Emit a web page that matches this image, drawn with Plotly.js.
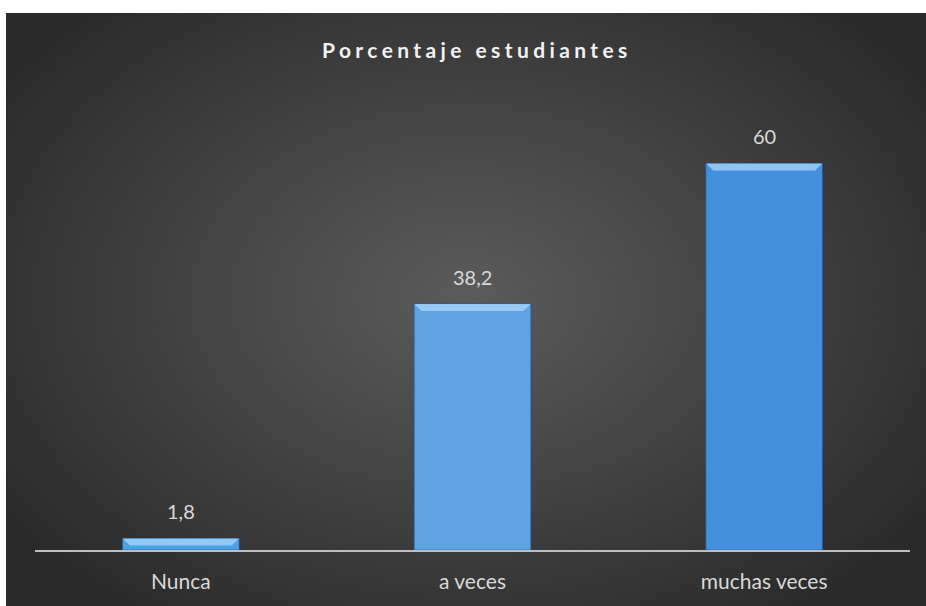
<!DOCTYPE html>
<html>
<head>
<meta charset="utf-8">
<script src="https://cdn.plot.ly/plotly-3.0.1.min.js"></script>
<style>
  html, body { margin: 0; padding: 0; background: #ffffff; width: 926px; height: 606px; overflow: hidden; }
  #bg { position: absolute; left: 6px; top: 13px; width: 920px; height: 593px;
        background: radial-gradient(ellipse 60% 65% at 50% 48%, #5b5b5b 0%, #464646 45%, #2b2b2b 100%); }
  #chart { position: absolute; left: 0; top: 0; width: 926px; height: 606px; }
  .gtitle { letter-spacing: 4.4px; }
</style>
</head>
<body>
<div id="bg"></div>
<div id="chart"></div>
<script>
const categories = ['Nunca', 'a veces', 'muchas veces'];
const values = [1.8, 38.2, 60];
const barColors = ['#4aa2ea', '#5fa3e2', '#4590dc'];

const fmt = v => String(v).replace('.', ',');

const trace = {
  type: 'bar',
  x: categories,
  y: values,
  width: 0.4,
  marker: { color: barColors, line: { color: 'rgba(30,90,160,0.6)', width: 1 } },
  hoverinfo: 'skip'
};

const annotations = categories.map((c, i) => ({
  x: c, y: values[i], xref: 'x', yref: 'y',
  text: fmt(values[i]), showarrow: false,
  yanchor: 'bottom', yshift: 13,
  font: { family: 'Lato, "Open Sans", sans-serif', size: 20, color: '#d9d9d9' }
}));

// Bevel highlight on top of each bar (pixel offsets relative to the bar top)
const shapes = [];
categories.forEach((c, i) => {
  shapes.push({
    type: 'path', xref: 'x', yref: 'y',
    xsizemode: 'pixel', ysizemode: 'pixel',
    xanchor: i, yanchor: values[i],
    path: 'M -58,0 L 58,0 L 51,-7 L -51,-7 Z',
    fillcolor: 'rgba(170,215,250,0.75)', line: { width: 0 }
  });
});

const layout = {
  width: 926, height: 606,
  paper_bgcolor: 'rgba(0,0,0,0)',
  plot_bgcolor: 'rgba(0,0,0,0)',
  margin: { l: 35, r: 16, t: 99, b: 56 },
  title: {
    text: '<b>Porcentaje estudiantes</b>',
    font: { family: 'Lato, "Open Sans", sans-serif', size: 21, color: '#f2f2f2' },
    xref: 'paper', x: 0.505, xanchor: 'center', y: 0.917, yanchor: 'middle'
  },
  xaxis: {
    showgrid: false, zeroline: false,
    showline: true, linecolor: '#bfbfbf', linewidth: 2,
    ticks: '', tickfont: { family: 'Lato, "Open Sans", sans-serif', size: 21, color: '#d9d9d9' },
    ticklabelstandoff: 12
  },
  yaxis: {
    range: [0, 70], visible: false, showgrid: false, zeroline: false, fixedrange: true
  },
  annotations: annotations,
  shapes: shapes,
  showlegend: false,
  bargap: 0.6
};

Plotly.newPlot('chart', [trace], layout, { displayModeBar: false, staticPlot: true });
</script>
</body>
</html>
